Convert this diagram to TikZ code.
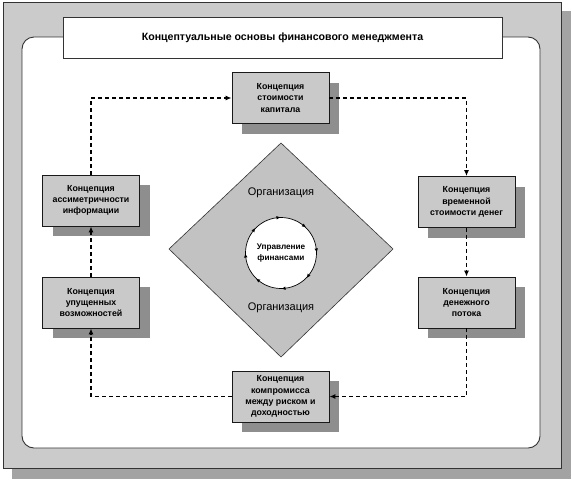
\documentclass[tikz,border=0pt]{standalone}
\usepackage{fontspec}
\setmainfont{Liberation Sans}
\usetikzlibrary{arrows.meta,shadows,decorations.markings}
\definecolor{boxgray}{HTML}{C9C9C9}
\definecolor{shadegray}{HTML}{8E8E8E}
\definecolor{framegray}{HTML}{CBCBCB}
\definecolor{diagray}{HTML}{C2C2C2}
\definecolor{outshade}{HTML}{A3A3A3}
\definecolor{edgegray}{HTML}{333333}
\tikzset{
  cbox/.style={draw=black!90, line width=0.9pt, fill=boxgray, minimum width=97pt, minimum height=51pt,
    inner sep=0pt, align=center, font=\bfseries\fontsize{8.8}{11.2}\selectfont,
    general shadow={fill=shadegray, shadow xshift=10pt, shadow yshift=-10pt}},
  flow/.style={dashed, dash pattern=on 4pt off 3pt, line width=1.1pt, -{Latex[length=6pt,width=5pt]}},
  orgtext/.style={font=\fontsize{11}{13}\selectfont, inner sep=0pt},
}
\begin{document}
\begin{tikzpicture}[x=1pt,y=-1pt]
\useasboundingbox (0,0) rectangle (572,480);
% outer frame with shadow
\fill[outshade] (12,11) rectangle (571,479);
\draw[edgegray, line width=0.9pt, fill=framegray] (3,2) rectangle (561,468);
\draw[edgegray, line width=0.9pt, fill=white, rounded corners=12pt] (22,37) rectangle (540,448);
% title
\node[draw=edgegray, line width=0.9pt, fill=white, minimum width=439pt, minimum height=41pt, inner sep=0pt,
  font=\bfseries\fontsize{10.6}{13}\selectfont] (title) at (282.5,37.5) {Концептуальные основы финансового менеджмента};
% diamond
\draw[edgegray, line width=0.6pt, fill=diagray] (281,143) -- (393,249) -- (281,357) -- (169,249) -- cycle;
\node[orgtext] (org1) at (281,193) {Организация};
\node[orgtext] (org2) at (281,308) {Организация};
\node[circle, draw=black, line width=0.7pt, fill=white, minimum size=71pt, inner sep=0pt, align=center,
  font=\bfseries\fontsize{8.2}{10.5}\selectfont,
  postaction={decorate},
  decoration={markings, mark=between positions 0.02 and 0.9 step 0.125 with {\arrow{Latex[reversed,length=4pt,width=3.6pt]}}}]
  (mgmt) at (281,253) {Управление\\финансами};
% concept boxes
\node[cbox] (top) at (280.5,98) {Концепция\\стоимости\\капитала};
\node[cbox] (ltop) at (91,200.5) {Концепция\\ассиметричности\\информации};
\node[cbox] (lbot) at (91,302.5) {Концепция\\упущенных\\возможностей};
\node[cbox] (rtop) at (466.5,202) {Концепция\\временной\\стоимости денег};
\node[cbox] (rbot) at (466.5,302.5) {Концепция\\денежного\\потока};
\node[cbox] (bot) at (280.5,396.5) {Концепция\\компромисса\\между риском и\\доходностью};
% connectors
\draw[flow] (ltop.north) |- (top.west);
\draw[flow] (top.east) -| (rtop.north);
\draw[flow] (rtop.south) -- (rbot.north);
\draw[flow] (rbot.south) |- (bot.east);
\draw[flow] (bot.west) -| (lbot.south);
\draw[flow] (lbot.north) -- (ltop.south);
\end{tikzpicture}
\end{document}
